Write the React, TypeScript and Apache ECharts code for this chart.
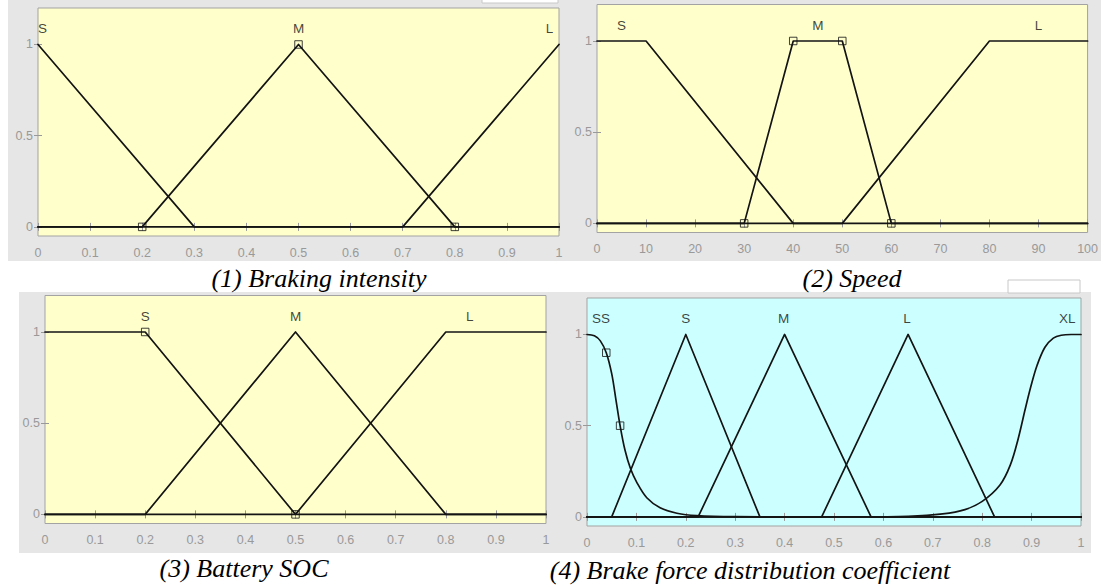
import React, { useEffect, useRef } from "react";
import * as echarts from "echarts";

// (1) Braking intensity
const brakeS = [[0, 1], [0.3, 0], [1, 0]];
const brakeM = [[0, 0], [0.2, 0], [0.5, 1], [0.8, 0], [1, 0]];
const brakeL = [[0, 0], [0.7, 0], [1, 1]];
const brakeMarks = [[0.2, 0], [0.5, 1], [0.8, 0]];
const brakeTerms = ["S", "M", "L"];
const brakeTermX = [0, 0.5, 0.982];

// (2) Speed
const speedS = [[0, 1], [10, 1], [40, 0], [100, 0]];
const speedM = [[0, 0], [30, 0], [40, 1], [50, 1], [60, 0], [100, 0]];
const speedL = [[0, 0], [50, 0], [80, 1], [100, 1]];
const speedMarks = [[30, 0], [40, 1], [50, 1], [60, 0]];
const speedTerms = ["S", "M", "L"];
const speedTermX = [5, 45, 90];

// (3) Battery SOC
const socS = [[0, 1], [0.2, 1], [0.5, 0], [1, 0]];
const socM = [[0, 0], [0.2, 0], [0.5, 1], [0.8, 0], [1, 0]];
const socL = [[0, 0], [0.5, 0], [0.8, 1], [1, 1]];
const socMarks = [[0.2, 1], [0.5, 0]];
const socTerms = ["S", "M", "L"];
const socTermX = [0.2, 0.5, 0.848];

// (4) Brake force distribution coefficient
const coefSS = [
  [0, 1], [0.015, 0.993], [0.027, 0.965], [0.039, 0.9], [0.05, 0.785],
  [0.059, 0.635], [0.067, 0.5], [0.077, 0.365], [0.088, 0.265], [0.101, 0.188],
  [0.121, 0.105], [0.148, 0.05], [0.182, 0.02], [0.222, 0.007], [0.3, 0.001],
  [0.4, 0], [1, 0],
];
const coefS = [[0, 0], [0.05, 0], [0.2, 1], [0.35, 0], [1, 0]];
const coefM = [[0, 0], [0.225, 0], [0.4, 1], [0.575, 0], [1, 0]];
const coefL = [[0, 0], [0.475, 0], [0.65, 1], [0.825, 0], [1, 0]];
const coefXL = [
  [0, 0], [0.55, 0], [0.65, 0.003], [0.72, 0.016], [0.765, 0.04],
  [0.8, 0.085], [0.836, 0.175], [0.857, 0.285], [0.873, 0.43],
  [0.887, 0.59], [0.899, 0.72], [0.911, 0.83], [0.927, 0.93],
  [0.944, 0.98], [0.96, 0.996], [0.98, 1], [1, 1],
];
const coefMarks = [[0.039, 0.9], [0.067, 0.5]];
const coefTerms = ["SS", "S", "M", "L", "XL"];
const coefTermX = [0.0285, 0.2, 0.398, 0.648, 0.972];

const captions = [
  "(1) Braking intensity",
  "(2) Speed",
  "(3) Battery SOC",
  "(4) Brake force distribution coefficient",
];

const LABEL_Y = 1.085;
const YELLOW = "#ffffcc";
const CYAN = "#ccffff";
const PANEL_GRAY = "#e6e6e6";
const TICK_GRAY = "#999999";
const BOX_GRAY = "#a3a3a3";
const SANS = "'Liberation Sans', Arial, Helvetica, sans-serif";
const SERIF = "'Liberation Serif', 'Times New Roman', serif";

type Panel = {
  rect: { left: number; top: number; width: number; height: number };
  bg: string;
  xMax: number;
  xInterval: number;
  curves: number[][][];
  smooth: boolean[];
  marks: number[][];
  terms: string[];
  termX: number[];
  termAlign?: string[];
};

const panels: Panel[] = [
  {
    rect: { left: 38, top: 8, width: 521, height: 228 },
    bg: YELLOW,
    xMax: 1,
    xInterval: 0.1,
    curves: [brakeS, brakeM, brakeL],
    smooth: [false, false, false],
    marks: brakeMarks,
    terms: brakeTerms,
    termX: brakeTermX,
    termAlign: ["left", "center", "center"],
  },
  {
    rect: { left: 597, top: 4.5, width: 492, height: 228 },
    bg: YELLOW,
    xMax: 100,
    xInterval: 10,
    curves: [speedS, speedM, speedL],
    smooth: [false, false, false],
    marks: speedMarks,
    terms: speedTerms,
    termX: speedTermX,
  },
  {
    rect: { left: 45, top: 295.5, width: 501, height: 228 },
    bg: YELLOW,
    xMax: 1,
    xInterval: 0.1,
    curves: [socS, socM, socL],
    smooth: [false, false, false],
    marks: socMarks,
    terms: socTerms,
    termX: socTermX,
  },
  {
    rect: { left: 587, top: 298, width: 494, height: 228 },
    bg: CYAN,
    xMax: 1,
    xInterval: 0.1,
    curves: [coefSS, coefS, coefM, coefL, coefXL],
    smooth: [true, false, false, false, true],
    marks: coefMarks,
    terms: coefTerms,
    termX: coefTermX,
  },
];

const fmt = (v: number) => String(Number(v.toFixed(2)));

function buildOption() {
  const grid: any[] = [];
  const xAxis: any[] = [];
  const yAxis: any[] = [];
  const series: any[] = [];

  panels.forEach((p, i) => {
    grid.push({
      ...p.rect,
      show: true,
      backgroundColor: p.bg,
      borderColor: BOX_GRAY,
      borderWidth: 1,
      containLabel: false,
    });
    const tick = { show: true, inside: true, length: 4, lineStyle: { color: TICK_GRAY, width: 1 } };
    // bottom axis carries the labels, top axis mirrors the ticks
    xAxis.push({
      type: "value",
      gridIndex: i,
      min: 0,
      max: p.xMax,
      interval: p.xInterval,
      axisLine: { show: false },
      axisTick: tick,
      splitLine: { show: false },
      axisLabel: {
        margin: 10,
        color: TICK_GRAY,
        fontSize: 12.5,
        fontFamily: SANS,
        formatter: fmt,
      },
    });
    xAxis.push({
      type: "value",
      gridIndex: i,
      position: "top",
      min: 0,
      max: p.xMax,
      interval: p.xInterval,
      axisLine: { show: false },
      axisTick: tick,
      splitLine: { show: false },
      axisLabel: { show: false },
    });
    const yTick = { ...tick, customValues: [0, 0.5, 1] };
    yAxis.push({
      type: "value",
      gridIndex: i,
      min: -0.05,
      max: 1.2,
      axisLine: { show: false },
      axisTick: yTick,
      splitLine: { show: false },
      axisLabel: {
        customValues: [0, 0.5, 1],
        margin: 5,
        color: TICK_GRAY,
        fontSize: 12.5,
        fontFamily: SANS,
        formatter: fmt,
      },
    });
    yAxis.push({
      type: "value",
      gridIndex: i,
      position: "right",
      min: -0.05,
      max: 1.2,
      axisLine: { show: false },
      axisTick: yTick,
      splitLine: { show: false },
      axisLabel: { show: false },
    });

    const xi = i * 2;
    const yi = i * 2;
    p.curves.forEach((c, k) => {
      series.push({
        type: "line",
        xAxisIndex: xi,
        yAxisIndex: yi,
        data: c,
        symbol: "none",
        smooth: p.smooth[k] ? 0.35 : false,
        lineStyle: { color: "#141414", width: 1.7, join: "round", cap: "round" },
        z: 3,
      });
    });
    series.push({
      type: "scatter",
      xAxisIndex: xi,
      yAxisIndex: yi,
      data: p.marks,
      symbol: "rect",
      symbolSize: 7.5,
      itemStyle: { color: "rgba(0,0,0,0)", borderColor: "#111", borderWidth: 1 },
      z: 5,
    });
    series.push({
      type: "scatter",
      xAxisIndex: xi,
      yAxisIndex: yi,
      symbolSize: 0,
      data: p.terms.map((t, k) => ({
        name: t,
        value: [p.termX[k], LABEL_Y],
        label: { align: p.termAlign ? p.termAlign[k] : "center" },
      })),
      label: {
        show: true,
        position: "inside",
        formatter: "{b}",
        color: "#111",
        fontSize: 13.5,
        fontFamily: SANS,
        verticalAlign: "middle",
      },
      z: 6,
    });
  });

  const captionPos = [
    [319, 278],
    [852, 278],
    [244, 568],
    [750, 570],
  ];

  const graphic: any[] = [
    { type: "rect", z: -10, shape: { x: 8, y: 0, width: 1093, height: 261 }, style: { fill: PANEL_GRAY } },
    { type: "rect", z: -10, shape: { x: 19, y: 292, width: 1072, height: 261 }, style: { fill: PANEL_GRAY } },
    { type: "rect", z: -9, shape: { x: 482, y: -1, width: 76, height: 4 }, style: { fill: "#fff", stroke: "#c8c8c8", lineWidth: 1 } },
    { type: "rect", z: -9, shape: { x: 1008, y: 280, width: 72, height: 13 }, style: { fill: "#fff", stroke: "#c8c8c8", lineWidth: 1 } },
    ...captions.map((c, k) => ({
      type: "text",
      x: captionPos[k][0],
      y: captionPos[k][1],
      style: {
        text: c,
        fill: "#000",
        font: `italic 26px ${SERIF}`,
        textAlign: "center",
        textVerticalAlign: "middle",
      },
    })),
  ];

  return { animation: false, backgroundColor: "#fff", grid, xAxis, yAxis, series, graphic };
}

export default function App() {
  const ref = useRef<HTMLDivElement>(null);
  useEffect(() => {
    if (!ref.current) return;
    const chart = echarts.init(ref.current, undefined, { renderer: "svg" });
    chart.setOption(buildOption() as any);
    return () => chart.dispose();
  }, []);
  return (
    <div
      ref={ref}
      style={{ position: "fixed", left: 0, top: 0, width: 1101, height: 587, background: "#fff" }}
    />
  );
}
